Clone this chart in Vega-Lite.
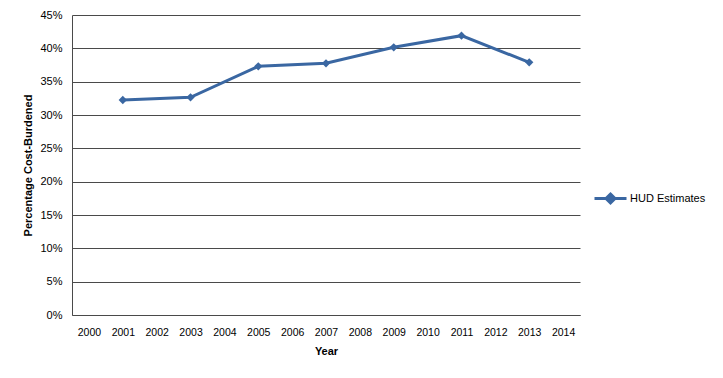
{
  "$schema": "https://vega.github.io/schema/vega-lite/v6.json",
  "autosize": "none",
  "width": 508,
  "height": 300,
  "padding": {"left": 72, "top": 15, "right": 143, "bottom": 63},
  "background": "white",
  "config": {
    "view": {"stroke": null},
    "font": "Liberation Sans"
  },
  "data": {
    "values": [
      {"Year": "2001", "value": 0.3225, "series": "HUD Estimates"},
      {"Year": "2003", "value": 0.3265, "series": "HUD Estimates"},
      {"Year": "2005", "value": 0.373, "series": "HUD Estimates"},
      {"Year": "2007", "value": 0.3775, "series": "HUD Estimates"},
      {"Year": "2009", "value": 0.4015, "series": "HUD Estimates"},
      {"Year": "2011", "value": 0.419, "series": "HUD Estimates"},
      {"Year": "2013", "value": 0.379, "series": "HUD Estimates"}
    ]
  },
  "mark": {"type": "line", "strokeWidth": 3, "point": {"shape": "diamond", "size": 70, "filled": true, "opacity": 1}},
  "encoding": {
    "x": {
      "field": "Year",
      "type": "ordinal",
      "scale": {"type": "point", "padding": 0.5, "domain": ["2000","2001","2002","2003","2004","2005","2006","2007","2008","2009","2010","2011","2012","2013","2014"]},
      "axis": {
        "title": "Year",
        "labelAngle": 0,
        "ticks": false,
        "domainColor": "#4a4a4a",
        "labelFontSize": 10.5,
        "labelColor": "#000",
        "labelPadding": 12,
        "titleFontSize": 11,
        "titleFontWeight": "bold",
        "titleColor": "#000",
        "titlePadding": 8
      }
    },
    "y": {
      "field": "value",
      "type": "quantitative",
      "scale": {"domain": [0, 0.45], "nice": false},
      "axis": {
        "title": "Percentage Cost-Burdened",
        "values": [0, 0.05, 0.1, 0.15, 0.2, 0.25, 0.3, 0.35, 0.4, 0.45],
        "format": ".0%",
        "ticks": false,
        "grid": true,
        "gridColor": "#4a4a4a",
        "gridOpacity": 1,
        "domainColor": "#4a4a4a",
        "labelFontSize": 11,
        "labelColor": "#000",
        "labelPadding": 10,
        "titleFontSize": 11,
        "titleFontWeight": "bold",
        "titleColor": "#000",
        "titlePadding": 6
      }
    },
    "color": {
      "field": "series",
      "type": "nominal",
      "scale": {"range": ["#3A67A2"]},
      "legend": {
        "title": null,
        "orient": "none",
        "legendX": 521,
        "legendY": 166,
        "symbolType": "M-1,0H1M0,-0.28L0.28,0L0,0.28L-0.28,0Z",
        "symbolSize": 1024,
        "symbolStrokeWidth": 3,
        "symbolFillColor": "#3A67A2",
        "labelFontSize": 11,
        "labelColor": "#000",
        "labelOffset": 2
      }
    }
  }
}
